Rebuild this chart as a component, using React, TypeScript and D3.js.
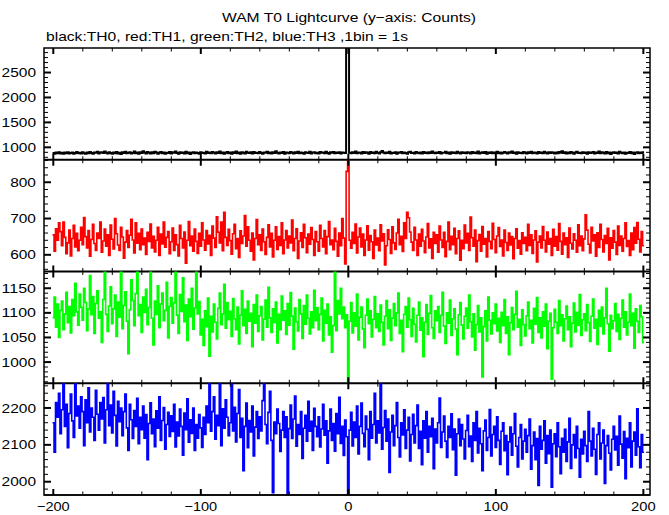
import React from "react";
import * as d3 from "d3";

const TITLE = "WAM T0 Lightcurve (y\u2212axis: Counts)";
const SUBTITLE = "black:TH0, red:TH1, green:TH2, blue:TH3 ,1bin = 1s";
const T_START = -200;

const th0 = [
885, 872, 896, 880, 903, 878, 890, 869, 894, 882, 901, 876, 888, 897, 870, 884, 905, 879, 892, 874,
899, 883, 871, 894, 880, 907, 886, 873, 898, 889, 912, 878, 895, 903, 884, 918, 890, 876, 900, 887,
872, 896, 881, 905, 877, 891, 868, 899, 884, 910, 879, 893, 901, 874, 888, 915, 882, 897, 870, 903,
886, 921, 894, 878, 906, 889, 875, 900, 883, 912, 896, 872, 891, 904, 880, 898, 869, 893, 885, 908,
877, 899, 890, 918, 884, 871, 903, 888, 895, 874, 909, 882, 897, 866, 890, 901, 879, 894, 886, 870,
902, 885, 893, 876, 911, 888, 897, 880, 905, 892, 874, 899, 887, 914, 882, 896, 871, 890, 908, 883,
895, 873, 900, 887, 916, 881, 894, 869, 903, 889, 878, 910, 893, 884, 899, 875, 906, 888, 891, 879,
904, 886, 872, 897, 890, 913, 880, 895, 876, 901, 884, 920, 892, 878, 898, 887, 906, 873, 894, 889,
881, 907, 893, 875, 899, 886, 912, 879, 896, 888, 870, 903, 891, 884, 909, 877, 895, 900, 883, 892,
876, 904, 889, 897, 881, 911, 885, 873, 899, 892, 906, 880, 894, 887, 902, 874, 896, 890, 885, 3100,
3400, 893, 880, 901, 887, 915, 879, 896, 890, 875, 908, 884, 899, 893, 870, 905, 886, 897, 882, 911,
889, 874, 903, 926, 895, 881, 898, 887, 910, 877, 893, 884, 901, 869, 896, 890, 907, 880, 894, 886,
872, 899, 913, 885, 893, 878, 904, 890, 882, 897, 875, 908, 888, 895, 879, 901, 886, 917, 892, 881,
898, 884, 906, 876, 893, 889, 911, 880, 897, 871, 903, 887, 895, 882, 909, 890, 877, 900, 886, 894,
880, 902, 891, 874, 905, 888, 896, 883, 914, 878, 893, 899, 885, 907, 872, 894, 888, 901, 879, 896,
887, 910, 882, 898, 875, 893, 904, 889, 877, 900, 891, 918, 884, 896, 870, 903, 887, 893, 880, 906,
892, 878, 901, 886, 913, 881, 897, 890, 874, 905, 888, 895, 880, 909, 893, 876, 899, 885, 902, 890,
874, 897, 883, 906, 891, 920, 886, 899, 878, 894, 882, 904, 889, 873, 898, 911, 885, 893, 879, 901,
888, 895, 871, 903, 884, 892, 907, 878, 896, 887, 914, 881, 899, 890, 875, 906, 883, 897, 866, 892,
901, 885, 894, 876, 909, 889, 880, 898, 872, 893, 886, 904, 879, 896, 868, 890, 903, 882, 895, 885,
899];

const th1 = [
655, 610, 672, 640, 688, 664, 625, 690, 648, 603, 633, 668, 597, 645, 681, 622, 659, 611, 640, 676,
628, 703, 650, 619, 667, 596, 642, 684, 631, 612, 660, 645, 690, 607, 638, 671, 624, 655, 598, 682,
643, 616, 700, 658, 627, 612, 676, 649, 591, 635, 667, 620, 654, 698, 641, 605, 688, 632, 659, 614,
671, 628, 646, 601, 662, 637, 685, 619, 651, 608, 640, 676, 598, 657, 630, 690, 621, 648, 664, 603,
636, 674, 612, 655, 628, 597, 681, 645, 619, 663, 577, 640, 692, 625, 652, 610, 671, 637, 604, 659,
624, 688, 641, 613, 667, 630, 654, 598, 679, 646, 620, 705, 662, 633, 690, 611, 717, 648, 626, 670,
639, 602, 658, 684, 617, 645, 593, 666, 631, 652, 708, 624, 677, 640, 610, 660, 586, 645, 697, 628,
655, 612, 671, 636, 601, 648, 683, 622, 659, 594, 640, 677, 615, 650, 626, 688, 603, 641, 667, 619,
652, 633, 696, 611, 645, 672, 590, 638, 661, 620, 684, 647, 606, 657, 629, 675, 642, 598, 664, 636,
610, 681, 645, 622, 667, 603, 650, 692, 628, 641, 614, 673, 637, 596, 660, 625, 700, 646, 575, 830,
875, 640, 618, 662, 631, 685, 605, 649, 674, 622, 657, 598, 641, 680, 613, 653, 636, 590, 668, 627,
646, 611, 683, 638, 658, 572, 625, 669, 642, 604, 677, 633, 615, 660, 698, 628, 651, 609, 688, 645,
717, 702, 663, 635, 612, 676, 641, 598, 657, 624, 670, 638, 606, 649, 686, 619, 644, 590, 662, 631,
655, 607, 679, 641, 620, 662, 595, 637, 690, 614, 651, 628, 673, 603, 645, 666, 585, 640, 617, 682,
633, 659, 612, 704, 647, 624, 668, 581, 639, 656, 610, 678, 629, 645, 594, 664, 637, 617, 687, 642,
606, 652, 675, 623, 641, 597, 668, 634, 612, 660, 627, 650, 589, 645, 672, 618, 639, 602, 661, 631,
648, 611, 684, 626, 655, 604, 641, 666, 580, 635, 652, 619, 678, 640, 608, 663, 629, 645, 598, 670,
624, 650, 613, 686, 637, 602, 660, 628, 647, 593, 674, 632, 616, 658, 640, 607, 683, 625, 652, 611,
644, 710, 668, 629, 605, 676, 638, 655, 596, 661, 620, 684, 642, 608, 653, 631, 673, 586, 647, 618,
667, 635, 601, 679, 626, 652, 610, 645, 688, 623, 639, 598, 660, 614, 675, 632, 689, 643, 608, 664,
625];

const th2 = [
1090, 1132, 1071, 1118, 1050, 1105, 1124, 1066, 1098, 1142, 1080, 1113, 1059, 1127, 1094, 1160, 1102, 1075, 1138, 1111,
1085, 1150, 1121, 1064, 1108, 1176, 1096, 1133, 1058, 1119, 1145, 1089, 1102, 1040, 1127, 1185, 1097, 1062, 1114, 1153,
1078, 1108, 1136, 1052, 1122, 1091, 1185, 1068, 1115, 1143, 1083, 1017, 1106, 1167, 1125, 1074, 1139, 1185, 1094, 1117,
1060, 1132, 1101, 1148, 1076, 1111, 1185, 1089, 1035, 1124, 1097, 1155, 1070, 1118, 1140, 1084, 1105, 1162, 1049, 1113,
1131, 1079, 1120, 1185, 1095, 1058, 1137, 1103, 1171, 1082, 1116, 1044, 1128, 1092, 1150, 1067, 1110, 1185, 1098, 1123,
1055, 1087, 1034, 1104, 1072, 1130, 1012, 1093, 1061, 1118, 1081, 1047, 1109, 1140, 1076, 1098, 1158, 1069, 1121, 1086,
1103, 1052, 1129, 1088, 1066, 1112, 1037, 1095, 1145, 1074, 1107, 1058, 1124, 1083, 1099, 1031, 1117, 1079, 1136, 1062,
1094, 1113, 1045, 1087, 1126, 1071, 1152, 1090, 1060, 1108, 1080, 1122, 1039, 1097, 1066, 1134, 1085, 1104, 1056, 1119,
1075, 1141, 1093, 1026, 1110, 1082, 1063, 1127, 1098, 1048, 1115, 1077, 1136, 1089, 1057, 1102, 1070, 1146, 1084, 1111,
1066, 1097, 1130, 1043, 1105, 1079, 1118, 1055, 1092, 1020, 1074, 1185, 1064, 1125, 1098, 1150, 1088, 1112, 1070, 1096,
958, 1083, 1121, 1059, 1100, 1073, 1138, 1045, 1091, 1112, 1067, 1029, 1095, 1128, 1078, 1104, 1051, 1087, 1133, 1070,
1098, 1062, 1116, 1081, 1035, 1093, 1125, 1068, 1106, 1044, 1089, 1119, 1074, 1100, 1140, 1058, 1085, 1021, 1097, 1113,
1071, 1130, 1086, 1052, 1109, 1077, 1041, 1095, 1122, 1065, 1090, 1011, 1081, 1117, 1056, 1099, 1135, 1070, 1048, 1104,
1084, 1113, 1060, 1095, 1142, 1073, 1038, 1100, 1079, 1126, 1054, 1088, 1108, 1067, 1015, 1096, 1121, 1075, 1047, 1093,
1110, 1069, 1136, 1082, 1051, 1098, 1024, 1076, 1115, 1061, 1090, 970, 1072, 1104, 1043, 1132, 1085, 1057, 1100, 1078,
1118, 1063, 1089, 1040, 1101, 1074, 1127, 1058, 1092, 1015, 1080, 1111, 1066, 1097, 1144, 1071, 1087, 1034, 1106, 1076,
1053, 1094, 1122, 1068, 1085, 1039, 1109, 1077, 1131, 1060, 1090, 1049, 1102, 1073, 1118, 1027, 1083, 1099, 965, 1070,
1107, 1081, 1058, 1125, 1074, 1096, 1043, 1088, 1114, 1066, 1092, 1031, 1079, 1120, 1061, 1101, 1075, 1137, 1054, 1086,
1098, 1064, 1117, 1080, 1042, 1093, 1128, 1069, 1087, 1036, 1105, 1073, 1112, 1057, 1090, 1150, 1078, 1022, 1095, 1068,
1084, 1119, 1062, 1097, 1046, 1089, 1126, 1071, 1102, 1055, 1081, 1138, 1074, 1099, 1028, 1108, 1083, 1060, 1115, 1092,
1040];

const th3 = [
2160, 2080, 2215, 2175, 2240, 2130, 2195, 2267, 2150, 2210, 2092, 2185, 2238, 2165, 2120, 2267, 2178, 2205, 2145, 2230,
2190, 2098, 2222, 2160, 2255, 2135, 2200, 2175, 2112, 2248, 2183, 2140, 2215, 2170, 2228, 2105, 2195, 2267, 2152, 2208,
2132, 2245, 2180, 2097, 2218, 2163, 2200, 2125, 2190, 2238, 2146, 2085, 2210, 2168, 2117, 2193, 2150, 2226, 2103, 2175,
2141, 2205, 2118, 2182, 2060, 2158, 2214, 2130, 2170, 2095, 2192, 2145, 2230, 2112, 2166, 2201, 2088, 2155, 2188, 2123,
2179, 2136, 2210, 2094, 2162, 2124, 2197, 2150, 2072, 2186, 2141, 2225, 2107, 2168, 2131, 2200, 2085, 2155, 2118, 2182,
2146, 2093, 2175, 2128, 2205, 2160, 2267, 2137, 2190, 2230, 2115, 2180, 2152, 2267, 2098, 2198, 2145, 2222, 2175, 2125,
2160, 2267, 2138, 2202, 2108, 2185, 2250, 2120, 2172, 2030, 2150, 2213, 2092, 2166, 2135, 2205, 2070, 2148, 2190, 2117,
2176, 2138, 2220, 2267, 2155, 2103, 2188, 2245, 2112, 1970, 2162, 2130, 2197, 2158, 2082, 2140, 2190, 2120, 2176, 1964,
2144, 2208, 2117, 2170, 2232, 2096, 2155, 2128, 2190, 2063, 2145, 2180, 2110, 2218, 2137, 2164, 2085, 2199, 2150, 2122,
2176, 2094, 2143, 2210, 2126, 2165, 2050, 2138, 2197, 2112, 2158, 2083, 2185, 2130, 2229, 2104, 2150, 2071, 2167, 2122,
1955, 2140, 2188, 2097, 2162, 2120, 2205, 2075, 2150, 2213, 2131, 2095, 2178, 2142, 2060, 2190, 2118, 2155, 2240, 2105,
2165, 2132, 2267, 2088, 2147, 2193, 2110, 2170, 2025, 2135, 2180, 2098, 2152, 2215, 2120, 2067, 2160, 2127, 2195, 2090,
2140, 2175, 2056, 2128, 2183, 2105, 2152, 2208, 2090, 2137, 2046, 2165, 2118, 2190, 2080, 2150, 2122, 2172, 2035, 2143,
2105, 2160, 2227, 2093, 2135, 2178, 2110, 2066, 2150, 2120, 2184, 2087, 2143, 2018, 2130, 2170, 2098, 2155, 2116, 2062,
2139, 2180, 2095, 2124, 2055, 2160, 2112, 2190, 2078, 2145, 2103, 2030, 2138, 2167, 2085, 2120, 2196, 2070, 2128, 2150,
2093, 2176, 2112, 2047, 2137, 2160, 2084, 2125, 2019, 2108, 2148, 2072, 2130, 2185, 2096, 2040, 2120, 2155, 2062, 2110,
2142, 2080, 2125, 2170, 2034, 2098, 2135, 2060, 2117, 1990, 2150, 2088, 2112, 2165, 2050, 2125, 2076, 2140, 1985, 2103,
2130, 2068, 2160, 2095, 2022, 2118, 2080, 2142, 2055, 2108, 2172, 2036, 2100, 2128, 2065, 2150, 2090, 2012, 2115, 2075,
2137, 2098, 2055, 2190, 2110, 2070, 2145, 2088, 2020, 2128, 2160, 2062, 2105, 2140, 1995, 2098, 2125, 2077, 2032, 2115,
2150, 2086, 2123, 2045, 2178, 2102, 2064, 2136, 2008, 2118, 2092, 2160, 2040, 2110, 2135, 2072, 2198, 2095, 2038, 2128,
2080];

const X_TICKS_MAJOR = [-200, -100, 0, 100, 200];
const X_LABELS = ["\u2212200", "\u2212100", "0", "100", "200"];

const PANELS = [
  { values: th0, color: "#000000", domain: [751, 2992], major: [1000, 1500, 2000, 2500], minorStep: 100, labels: ["1000", "1500", "2000", "2500"], width: 2 },
  { values: th1, color: "#ff0000", domain: [554, 862], major: [600, 700, 800], minorStep: 20, labels: ["600", "700", "800"], width: 1.6 },
  { values: th2, color: "#00ff00", domain: [957, 1184], major: [1000, 1050, 1100, 1150], minorStep: 10, labels: ["1000", "1050", "1100", "1150"], width: 1.6 },
  { values: th3, color: "#0000ff", domain: [1964, 2267], major: [2000, 2100, 2200], minorStep: 20, labels: ["2000", "2100", "2200"], width: 1.6 },
];

const W = 669, H = 515;
const L = 44, R = 650, TOP = 48, BOTTOM = 495;
const PH = (BOTTOM - TOP) / PANELS.length;
const FONT = "'Liberation Sans', Arial, Helvetica, sans-serif";

export default function App() {
  const x = d3.scaleLinear().domain([-206.3, 204.5]).range([L, R]);
  const xMinor = d3.range(-200, 201, 20);

  return (
    <svg width={W} height={H} style={{ position: "absolute", left: 0, top: 0, background: "#fff" }} fontFamily={FONT}>
      <rect x={0} y={0} width={W} height={H} fill="#fff" />
      <text x={349} y={22} fontSize={13.5} textAnchor="middle" textLength={254} lengthAdjust="spacingAndGlyphs">{TITLE}</text>
      <text x={46} y={41} fontSize={13.5} textLength={362} lengthAdjust="spacingAndGlyphs">{SUBTITLE}</text>
      <defs>
        {PANELS.map((p, i) => (
          <clipPath id={`clip${i}`} key={i}>
            <rect x={L} y={TOP + i * PH} width={R - L} height={PH} />
          </clipPath>
        ))}
      </defs>
      {PANELS.map((p, i) => {
        const y0 = TOP + i * PH, y1 = y0 + PH;
        const y = d3.scaleLinear().domain(p.domain).range([y1, y0]);
        const pts: [number, number][] = p.values.map((v, k) => [T_START + k - 0.5, v]);
        pts.push([T_START + p.values.length - 0.5, p.values[p.values.length - 1]]);
        const line = d3.line<[number, number]>().x(d => x(d[0])).y(d => y(d[1])).curve(d3.curveStepAfter);
        const yMinor = d3.range(Math.ceil(p.domain[0] / p.minorStep) * p.minorStep, p.domain[1], p.minorStep);
        return (
          <g key={i}>
            <path d={line(pts) || ""} fill="none" stroke={p.color} strokeWidth={p.width} clipPath={`url(#clip${i})`} />
            {yMinor.map(v => {
              const isMajor = p.major.includes(v);
              const len = isMajor ? 7 : 4;
              return (
                <g key={v} stroke="#000" strokeWidth={isMajor ? 2 : 1}>
                  <line x1={L} x2={L + len} y1={y(v)} y2={y(v)} />
                  <line x1={R} x2={R - len} y1={y(v)} y2={y(v)} />
                </g>
              );
            })}
            {p.major.map((v, k) => (
              <text key={v} x={36} y={y(v) + 4.6} fontSize={13} textAnchor="end" textLength={p.labels[k].length * 8.6} lengthAdjust="spacingAndGlyphs">{p.labels[k]}</text>
            ))}
            {xMinor.map(t => {
              const isMajor = X_TICKS_MAJOR.includes(t);
              const len = isMajor ? 6 : 3.5;
              return (
                <g key={t} stroke="#000" strokeWidth={isMajor ? 2 : 1}>
                  <line x1={x(t)} x2={x(t)} y1={y0} y2={y0 + len} />
                  <line x1={x(t)} x2={x(t)} y1={y1} y2={y1 - len} />
                </g>
              );
            })}
            <line x1={L} x2={R} y1={y1} y2={y1} stroke="#000" strokeWidth={i === PANELS.length - 1 ? 1.5 : 2} />
          </g>
        );
      })}
      <rect x={L} y={TOP} width={R - L} height={BOTTOM - TOP} fill="none" stroke="#000" strokeWidth={1.5} />
      {X_TICKS_MAJOR.map((t, k) => (
        <text key={t} x={x(t)} y={511} fontSize={13} textAnchor="middle" textLength={X_LABELS[k].length * 8.2} lengthAdjust="spacingAndGlyphs">{X_LABELS[k]}</text>
      ))}
    </svg>
  );
}
